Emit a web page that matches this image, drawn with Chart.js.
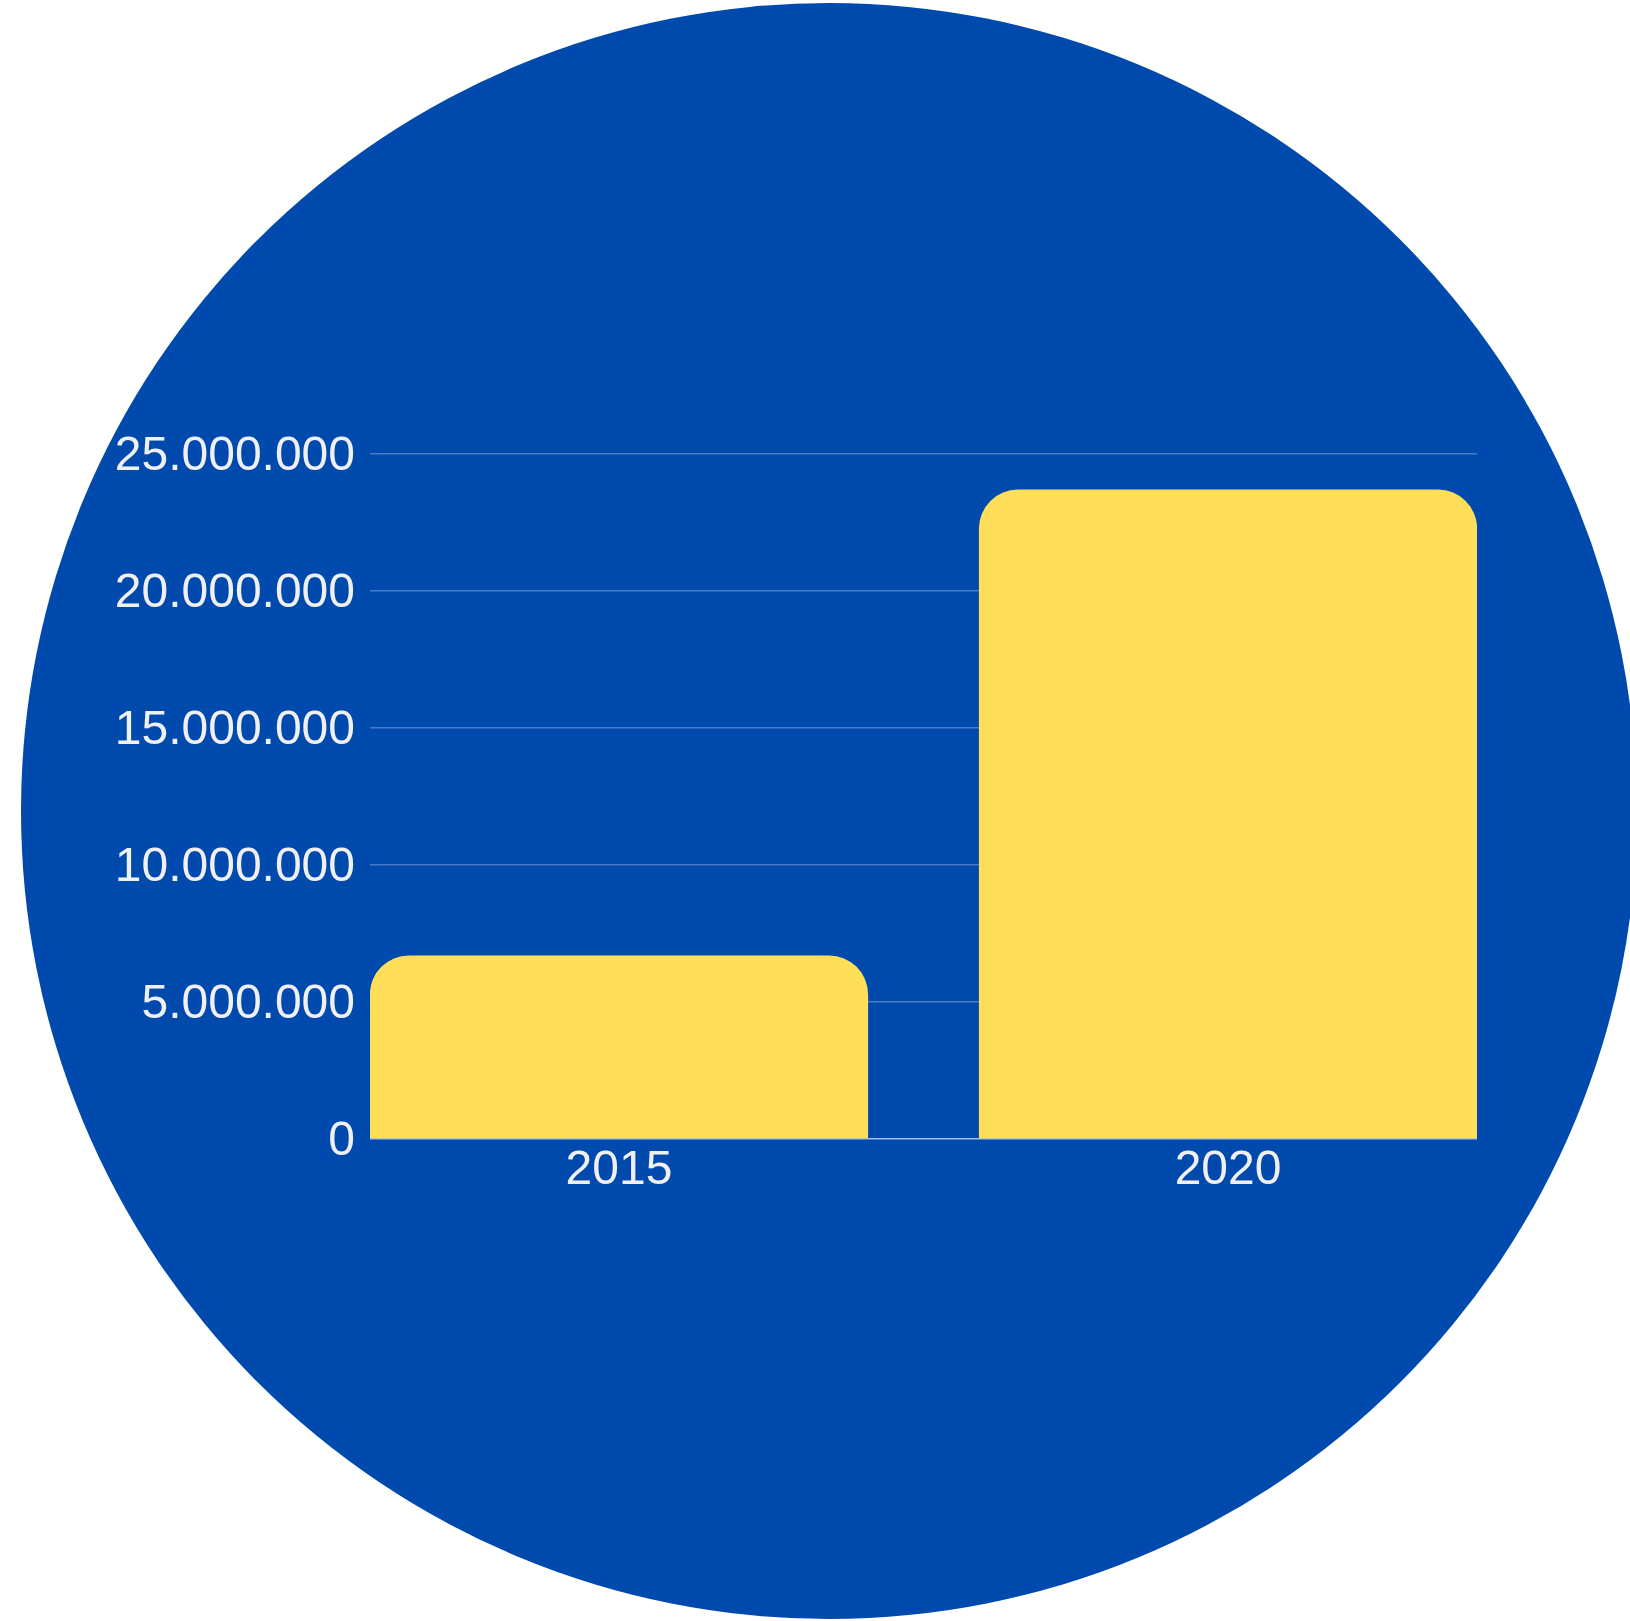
<!DOCTYPE html>
<html>
<head>
<meta charset="utf-8">
<script src="https://cdn.jsdelivr.net/npm/chart.js@4/dist/chart.umd.min.js"></script>
<style>
    html, body { margin: 0; padding: 0; background: #ffffff; overflow: hidden; }
    #wrap { position: relative; width: 1630px; height: 1621px; }
    #disc {
        position: absolute; left: 21px; top: 3px;
        width: 1616px; height: 1616px;
        border-radius: 50%; background: #004aad;
    }
    #box { position: absolute; left: 0; top: 0; width: 1630px; height: 1621px; }
</style>
</head>
<body>
<div id="wrap">
    <div id="disc"></div>
    <div id="box"><canvas id="chart"></canvas></div>
</div>
<script>
// data
const years = [2015, 2020];
const values = [6700000, 23700000];
const yTicks = [0, 5000000, 10000000, 15000000, 20000000, 25000000];

// how far the axis runs past the first / last year (in years)
const yearMargin = 2.044;

const textColor = '#f0f0f0';
const gridColor = 'rgba(255, 255, 255, 0.28)';
const zeroColor = '#a9bde0';
const labelFont = { family: '"Liberation Sans", Arial, sans-serif', size: 48 };

new Chart(document.getElementById('chart'), {
    type: 'bar',
    data: {
        datasets: [{
            data: years.map((y, i) => ({ x: y, y: values[i] })),
            backgroundColor: '#ffde59',
            borderWidth: 0,
            borderRadius: 39,
            borderSkipped: 'start',
            categoryPercentage: 1,
            barPercentage: 0.818
        }]
    },
    options: {
        responsive: true,
        maintainAspectRatio: false,
        animation: false,
        locale: 'de-DE',
        layout: { padding: { top: 454, right: 153, bottom: 0, left: 0 } },
        plugins: { legend: { display: false }, tooltip: { enabled: false } },
        scales: {
            x: {
                type: 'linear',
                offset: false,
                bounds: 'data',
                min: years[0] - yearMargin,
                max: years[years.length - 1] + yearMargin,
                grid: { display: false, drawTicks: false, offset: false },
                border: { display: false },
                afterBuildTicks: (scale) => { scale.ticks = years.map(v => ({ value: v })); },
                afterFit: (scale) => { scale.height = 482; },
                ticks: {
                    color: textColor,
                    padding: 3,
                    maxRotation: 0,
                    autoSkip: false,
                    font: labelFont,
                    callback: (v) => String(v)
                }
            },
            y: {
                min: 0,
                max: 25000000,
                afterBuildTicks: (scale) => { scale.ticks = yTicks.map(v => ({ value: v })); },
                afterFit: (scale) => { scale.width = 370; },
                grid: {
                    drawTicks: false,
                    lineWidth: 1.5,
                    color: (ctx) => (ctx.tick && ctx.tick.value === 0 ? zeroColor : gridColor)
                },
                border: { display: false },
                ticks: {
                    color: textColor,
                    padding: 15,
                    labelOffset: 3,
                    font: labelFont
                }
            }
        }
    }
});
</script>
</body>
</html>
